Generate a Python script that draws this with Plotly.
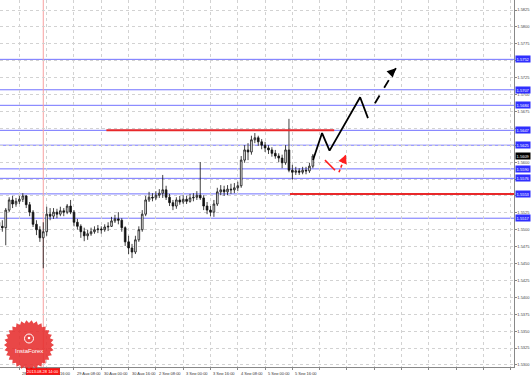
import math
import plotly.graph_objects as go

# ---------------- data ----------------
# x = hourly bar number counted from 27 Aug 2013 08:00 (2-hour candles shown)
bar_index = [4, 6, 8, 10, 12, 14, 16, 18, 20, 22, 24, 26, 28, 30, 32, 34, 36, 38, 40, 42,
             44, 46, 48, 50, 52, 54, 56, 58, 60, 62, 64, 66, 68, 70, 72, 74, 76, 78, 80, 82,
             84, 86, 88, 90, 92, 94, 96, 98, 100, 102, 104, 106, 108, 110, 112, 114, 116, 118, 120, 122,
             124, 126, 128, 130, 132, 134, 136, 138, 140, 142, 144, 146, 148, 150, 152, 154, 156, 158, 160, 162,
             164, 166, 168, 170, 172, 174, 176, 178, 180, 182, 184, 186, 188]

open_p = [1.5511, 1.5505, 1.5503, 1.5529, 1.5544, 1.5538, 1.5542, 1.5545, 1.5550, 1.5537,
          1.5526, 1.5508, 1.5500, 1.5488, 1.5497, 1.5523, 1.5520, 1.5526, 1.5523, 1.5528,
          1.5526, 1.5535, 1.5526, 1.5511, 1.5505, 1.5497, 1.5491, 1.5494, 1.5497, 1.5500,
          1.5501, 1.5500, 1.5504, 1.5505, 1.5513, 1.5516, 1.5514, 1.5503, 1.5482, 1.5473,
          1.5467, 1.5485, 1.5500, 1.5523, 1.5544, 1.5548, 1.5547, 1.5551, 1.5554, 1.5559,
          1.5548, 1.5540, 1.5535, 1.5544, 1.5541, 1.5545, 1.5542, 1.5547, 1.5548, 1.5551,
          1.5547, 1.5535, 1.5529, 1.5526, 1.5538, 1.5556, 1.5559, 1.5556, 1.5560, 1.5559,
          1.5562, 1.5565, 1.5603, 1.5618, 1.5615, 1.5633, 1.5636, 1.5630, 1.5625, 1.5621,
          1.5618, 1.5613, 1.5609, 1.5606, 1.5599, 1.5618, 1.5588, 1.5585, 1.5587, 1.5585,
          1.5588, 1.5587, 1.5594]
high_p = [1.5517, 1.5514, 1.5532, 1.5548, 1.5550, 1.5547, 1.5550, 1.5554, 1.5551, 1.5541,
          1.5529, 1.5514, 1.5505, 1.5511, 1.5534, 1.5532, 1.5532, 1.5531, 1.5534, 1.5532,
          1.5538, 1.5544, 1.5529, 1.5516, 1.5508, 1.5503, 1.5500, 1.5503, 1.5505, 1.5507,
          1.5505, 1.5508, 1.5511, 1.5519, 1.5522, 1.5526, 1.5517, 1.5505, 1.5491, 1.5479,
          1.5491, 1.5505, 1.5529, 1.5550, 1.5556, 1.5554, 1.5557, 1.5560, 1.5581, 1.5565,
          1.5553, 1.5544, 1.5548, 1.5550, 1.5551, 1.5550, 1.5553, 1.5554, 1.5557, 1.5600,
          1.5551, 1.5541, 1.5535, 1.5544, 1.5562, 1.5566, 1.5565, 1.5566, 1.5568, 1.5569,
          1.5571, 1.5609, 1.5625, 1.5628, 1.5639, 1.5643, 1.5639, 1.5634, 1.5630, 1.5625,
          1.5622, 1.5618, 1.5613, 1.5611, 1.5625, 1.5664, 1.5596, 1.5593, 1.5591, 1.5593,
          1.5593, 1.5599, 1.5612]
low_p = [1.5500, 1.5497, 1.5477, 1.5526, 1.5532, 1.5534, 1.5538, 1.5541, 1.5532, 1.5520,
         1.5504, 1.5492, 1.5482, 1.5443, 1.5491, 1.5514, 1.5516, 1.5517, 1.5520, 1.5520,
         1.5523, 1.5523, 1.5505, 1.5500, 1.5488, 1.5483, 1.5485, 1.5491, 1.5494, 1.5495,
         1.5494, 1.5497, 1.5498, 1.5504, 1.5510, 1.5508, 1.5497, 1.5476, 1.5464, 1.5458,
         1.5464, 1.5482, 1.5497, 1.5520, 1.5541, 1.5542, 1.5544, 1.5547, 1.5547, 1.5544,
         1.5535, 1.5529, 1.5531, 1.5537, 1.5538, 1.5538, 1.5540, 1.5542, 1.5544, 1.5544,
         1.5529, 1.5523, 1.5520, 1.5519, 1.5535, 1.5551, 1.5550, 1.5551, 1.5553, 1.5554,
         1.5557, 1.5562, 1.5599, 1.5603, 1.5611, 1.5628, 1.5624, 1.5619, 1.5615, 1.5612,
         1.5608, 1.5605, 1.5600, 1.5591, 1.5596, 1.5585, 1.5574, 1.5581, 1.5581, 1.5582,
         1.5582, 1.5584, 1.5591]
close_p = [1.5505, 1.5503, 1.5529, 1.5544, 1.5538, 1.5542, 1.5545, 1.5550, 1.5537, 1.5526,
           1.5508, 1.5500, 1.5488, 1.5497, 1.5523, 1.5520, 1.5526, 1.5523, 1.5528, 1.5526,
           1.5535, 1.5526, 1.5511, 1.5505, 1.5497, 1.5491, 1.5494, 1.5497, 1.5500, 1.5501,
           1.5500, 1.5504, 1.5505, 1.5513, 1.5516, 1.5514, 1.5503, 1.5482, 1.5473, 1.5467,
           1.5485, 1.5500, 1.5523, 1.5544, 1.5548, 1.5547, 1.5551, 1.5554, 1.5559, 1.5548,
           1.5540, 1.5535, 1.5544, 1.5541, 1.5545, 1.5542, 1.5547, 1.5548, 1.5551, 1.5547,
           1.5535, 1.5529, 1.5526, 1.5538, 1.5556, 1.5559, 1.5556, 1.5560, 1.5559, 1.5562,
           1.5565, 1.5603, 1.5618, 1.5615, 1.5633, 1.5636, 1.5630, 1.5625, 1.5621, 1.5618,
           1.5613, 1.5609, 1.5606, 1.5599, 1.5618, 1.5588, 1.5585, 1.5587, 1.5585, 1.5588,
           1.5587, 1.5594, 1.5609]

current_price = 1.5609

# horizontal support / resistance levels (blue)
level_prices = [1.5752, 1.5707, 1.5684, 1.5647, 1.5625, 1.5590, 1.5576, 1.5553, 1.5517]

# red key levels: (price, start bar, end bar)
red_level_prices = [1.5647, 1.5553]
red_level_start = [67, 174.6]
red_level_end = [200.5, 306]

# black forecast path (solid), then dashed continuation
forecast_bars = [188.1, 193.4, 197.8, 215.7, 220.3]
forecast_prices = [1.5603, 1.5643, 1.5617, 1.5696, 1.5665]
forecast_dash_bars = [224.4, 236.7]
forecast_dash_prices = [1.5687, 1.5739]

# red alternative scenario
alt_bars = [195.1, 201.0]
alt_prices = [1.5603, 1.5588]
alt_arrow_bars = [203.3, 207.4]
alt_arrow_prices = [1.5585, 1.5611]

# time axis (MT4 style: label starts at its tick; the cursor tag hides part of two labels,
# so only their visible part is written)
tick_bars = [0, 16, 32, 48, 64, 80, 96, 112, 128, 144, 160, 176]
tick_text = ["27 Aug 08:00", "28", "16:00", "29 Aug 08:00", "30 Aug 00:00",
             "30 Aug 16:00", "2 Sep 08:00", "3 Sep 00:00", "3 Sep 16:00", "4 Sep 08:00",
             "5 Sep 00:00", "5 Sep 16:00"]
tick_text_offset_px = [1, 1, 11, 1, 1, 1, 1, 1, 1, 1, 1, 1]
grid_bars = [0, 16, 32, 48, 64, 80, 96, 112, 128, 144, 160, 176, 192, 208, 224, 240, 256, 272, 288, 304]
cursor_bar = 30
cursor_text = "2013.08.28 14:00"

price_ticks = [1.5300, 1.5325, 1.5350, 1.5375, 1.5400, 1.5425, 1.5450, 1.5475, 1.5500, 1.5525, 1.5550,
               1.5575, 1.5600, 1.5625, 1.5650, 1.5675, 1.5700, 1.5725, 1.5750, 1.5775, 1.5800, 1.5825]

# ---------------- layout geometry ----------------
W, H = 531, 375
ML, MR, MT, MB = 0, 17, 0, 8
PW, PH = W - ML - MR, H - MT - MB
X_RANGE = [4.63, 305.9]
Y_RANGE = [1.52969, 1.58398]
FONT = "Liberation Sans, Arial, sans-serif"

# axis labels that sit under a level tag are hidden (covered in the original)
tag_prices = level_prices + [current_price]
price_tick_text = []
for v in price_ticks:
    covered = any(abs(v - t) < 0.0004 for t in tag_prices)
    price_tick_text.append("" if covered else f"{v:.4f}")

fig = go.Figure()

fig.add_trace(go.Candlestick(
    x=bar_index, open=open_p, high=high_p, low=low_p, close=close_p,
    increasing=dict(line=dict(color="#111111", width=0.8), fillcolor="#ffffff"),
    decreasing=dict(line=dict(color="#111111", width=0.8), fillcolor="#111111"),
    whiskerwidth=0, showlegend=False, hoverinfo="skip"))

# black forecast
fig.add_trace(go.Scatter(x=forecast_bars, y=forecast_prices, mode="lines",
                         line=dict(color="#000000", width=1.8), showlegend=False, hoverinfo="skip"))
fig.add_trace(go.Scatter(x=forecast_dash_bars, y=forecast_dash_prices, mode="lines",
                         line=dict(color="#000000", width=1.8, dash="dash"), showlegend=False,
                         hoverinfo="skip"))
# red alternative
fig.add_trace(go.Scatter(x=alt_bars, y=alt_prices, mode="lines",
                         line=dict(color="#ff2020", width=1.6), showlegend=False, hoverinfo="skip"))
fig.add_trace(go.Scatter(x=alt_arrow_bars, y=alt_arrow_prices, mode="lines",
                         line=dict(color="#ff2020", width=1.6, dash="3px,2px"), showlegend=False,
                         hoverinfo="skip"))

shapes = []
annotations = []

# blue levels
for p in level_prices:
    shapes.append(dict(type="line", xref="paper", x0=0, x1=1, yref="y", y0=p, y1=p,
                       line=dict(color="#7272ff", width=1), layer="below"))
# red levels
for p, s, e in zip(red_level_prices, red_level_start, red_level_end):
    shapes.append(dict(type="line", xref="x", x0=s, x1=e, yref="y", y0=p, y1=p,
                       line=dict(color="#e8282a", width=2), layer="above"))
# cursor line
shapes.append(dict(type="line", xref="x", x0=cursor_bar, x1=cursor_bar, yref="paper", y0=0, y1=1,
                   line=dict(color="#f7a0a0", width=1), layer="below"))

# arrowheads
annotations.append(dict(x=forecast_dash_bars[1], y=forecast_dash_prices[1], xref="x", yref="y",
                        ax=forecast_dash_bars[1] - 3.2, ay=forecast_dash_prices[1] - 0.0008,
                        axref="x", ayref="y", showarrow=True, arrowhead=2, arrowsize=1.1,
                        arrowwidth=1.6, arrowcolor="#000000", text=""))
annotations.append(dict(x=alt_arrow_bars[1], y=alt_arrow_prices[1], xref="x", yref="y",
                        ax=alt_arrow_bars[1] - 1.5, ay=alt_arrow_prices[1] - 0.0009,
                        axref="x", ayref="y", showarrow=True, arrowhead=2, arrowsize=1.1,
                        arrowwidth=1.6, arrowcolor="#ff2020", text=""))

# right-hand price tags for levels
for p in level_prices:
    annotations.append(dict(x=1, xref="paper", y=p, yref="y", xanchor="left", yanchor="middle",
                            xshift=1, text=f"{p:.4f}", showarrow=False, bgcolor="#2f2fff",
                            font=dict(color="#ffffff", size=4, family=FONT), borderpad=0.6))
annotations.append(dict(x=1, xref="paper", y=current_price, yref="y", xanchor="left",
                        yanchor="middle", xshift=1, text=f"{current_price:.4f}", showarrow=False,
                        bgcolor="#000000", font=dict(color="#ffffff", size=4, family=FONT),
                        borderpad=0.6))

# time labels (left aligned at tick, as in MT4)
for b, t, off in zip(tick_bars, tick_text, tick_text_offset_px):
    annotations.append(dict(x=b, xref="x", y=0, yref="paper", xanchor="left", yanchor="top",
                            xshift=off, yshift=-1.5, text=t, showarrow=False,
                            font=dict(color="#333333", size=4, family=FONT)))
annotations.append(dict(x=cursor_bar, xref="x", y=0, yref="paper", xanchor="center", yanchor="top",
                        yshift=-1, text=cursor_text, showarrow=False, bgcolor="#ff1010",
                        bordercolor="#c00000", borderwidth=0.5,
                        font=dict(color="#ffffff", size=4, family=FONT), borderpad=0.5))

# ---- InstaForex logo (decoration) ----
cx, cy, r_out, r_in, n = 29, 345, 25, 22, 30
pts = []
for k in range(2 * n):
    r = r_out if k % 2 == 0 else r_in
    a = math.pi * k / n
    px = cx + r * math.cos(a)
    py = cy + r * math.sin(a)
    pts.append((px / PW, 1 - py / PH))
path = "M " + " L ".join(f"{x:.5f},{y:.5f}" for x, y in pts) + " Z"
shapes.append(dict(type="path", xref="paper", yref="paper", path=path,
                   fillcolor="rgba(230,45,45,0.88)", line=dict(width=0), layer="above"))
# icon circle
ic_x, ic_y, ic_r = 29, 338.5, 4.5
shapes.append(dict(type="circle", xref="paper", yref="paper",
                   x0=(ic_x - ic_r) / PW, x1=(ic_x + ic_r) / PW,
                   y0=1 - (ic_y + ic_r) / PH, y1=1 - (ic_y - ic_r) / PH,
                   line=dict(color="#ffffff", width=1), fillcolor="rgba(0,0,0,0)", layer="above"))
shapes.append(dict(type="circle", xref="paper", yref="paper",
                   x0=(ic_x - 1.3) / PW, x1=(ic_x + 1.3) / PW,
                   y0=1 - (ic_y - 0.5 + 1.3) / PH, y1=1 - (ic_y - 0.5 - 1.3) / PH,
                   line=dict(width=0), fillcolor="#ffffff", layer="above"))
annotations.append(dict(x=cx / PW, y=1 - 350.5 / PH, xref="paper", yref="paper",
                        text="InstaForex", showarrow=False, xanchor="center", yanchor="middle",
                        font=dict(color="#ffffff", size=6, family=FONT)))

fig.update_layout(
    width=W, height=H, margin=dict(l=ML, r=MR, t=MT, b=MB),
    paper_bgcolor="#ffffff", plot_bgcolor="#ffffff",
    shapes=shapes, annotations=annotations, showlegend=False,
    xaxis=dict(range=X_RANGE, tickmode="array", tickvals=grid_bars, showticklabels=False,
               showgrid=True, gridcolor="#d2d2d2", griddash="dot", gridwidth=1,
               ticks="outside", ticklen=2, tickcolor="#888888",
               showline=True, linecolor="#888888", linewidth=1, zeroline=False,
               rangeslider=dict(visible=False), fixedrange=True),
    yaxis=dict(range=Y_RANGE, side="right", tickmode="array", tickvals=price_ticks,
               ticktext=price_tick_text,
               tickfont=dict(size=4, color="#444444", family=FONT),
               showgrid=True, gridcolor="#d2d2d2", griddash="dot", gridwidth=1,
               ticks="outside", ticklen=1.5, tickcolor="#888888",
               showline=True, linecolor="#888888", linewidth=1, zeroline=False,
               fixedrange=True),
)

fig.write_html("out.html")
